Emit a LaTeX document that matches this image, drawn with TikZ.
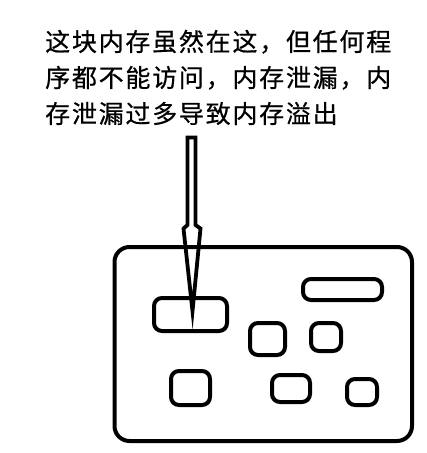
\documentclass[tikz,border=0pt]{standalone}
\usepackage{fontspec}
\newfontfamily\cjk[LetterSpace=7,FakeBold=0.6]{Noto Sans CJK SC}
\begin{document}
\begin{tikzpicture}[x=1pt,y=-1pt,
  box/.style={draw=black,line width=4pt,rounded corners=8pt},
  txt/.style={anchor=base west,inner sep=0pt,font=\cjk\fontsize{25}{25}\selectfont}]
\useasboundingbox[fill=white] (0,0) rectangle (427,453);
\node[txt] (l1) at (45,51) {这块内存虽然在这，但任何程};
\node[txt] (l2) at (45,87) {序都不能访问，内存泄漏，内};
\node[txt] (l3) at (45,123) {存泄漏过多导致内存溢出};
\draw[box,rounded corners=15pt] (114.5,247) rectangle (412,441);
\draw[box] (154,298) rectangle (227,331);
\draw[box] (303,279) rectangle (382,300);
\draw[box] (250,323) rectangle (285,355);
\draw[box] (311,323) rectangle (341,351);
\draw[box] (171,371) rectangle (210,405);
\draw[box] (272,375) rectangle (310,402);
\draw[box] (347,379) rectangle (377,405);
\coordinate (tip) at (192.5,311);
\draw[line width=3.8pt,line join=miter] (187.5,137.5) -- (195.5,137.5) -- (195.5,225) -- (200.5,228.5) -- (tip) -- (183.5,228.5) -- (187.5,225) -- cycle;
\end{tikzpicture}
\end{document}
